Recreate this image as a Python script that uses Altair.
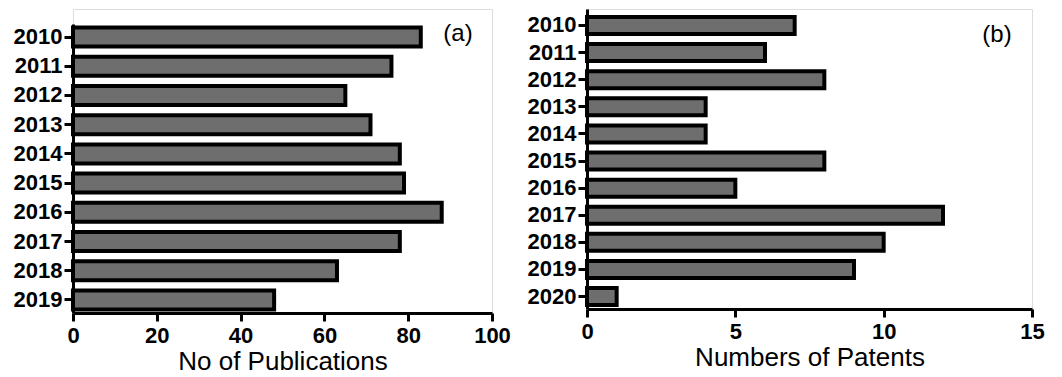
import altair as alt
import pandas as pd

pub_years = ["2010", "2011", "2012", "2013", "2014", "2015", "2016", "2017", "2018", "2019"]
pub_counts = [83, 76, 65, 71, 78, 79, 88, 78, 63, 48]

pat_years = ["2010", "2011", "2012", "2013", "2014", "2015", "2016", "2017", "2018", "2019", "2020"]
pat_counts = [7, 6, 8, 4, 4, 8, 5, 12, 10, 9, 1]

pub_ticks = [0, 20, 40, 60, 80, 100]
pat_ticks = [0, 5, 10, 15]

df_a = pd.DataFrame({"year": pub_years, "count": pub_counts})
df_b = pd.DataFrame({"year": pat_years, "count": pat_counts})

FONT = "Liberation Sans"
FILL = "#6e6e6e"


def xaxis(title, ticks):
    return alt.Axis(
        title=title, values=ticks, grid=False, labelFlush=False,
        domainColor="black", domainWidth=3, tickColor="black", tickWidth=3, tickSize=8,
        labelFont=FONT, labelFontWeight="bold", labelFontSize=22, labelColor="black",
        labelPadding=4, titleFont=FONT, titleFontWeight="normal", titleFontSize=26,
        titleColor="black", titlePadding=2,
    )


def yaxis():
    return alt.Axis(
        title=None, grid=False,
        domainColor="black", domainWidth=3, tickColor="black", tickWidth=3, tickSize=9,
        labelFont=FONT, labelFontWeight="bold", labelFontSize=22, labelColor="black",
        labelPadding=2,
    )


bars_a = alt.Chart(df_a).mark_bar(fill=FILL, stroke="black", strokeWidth=4).encode(
    x=alt.X("count:Q", scale=alt.Scale(domain=[0, 100], nice=False), axis=xaxis("No of Publications", pub_ticks)),
    y=alt.Y("year:N", sort=None,
            scale=alt.Scale(range=[15, 304], paddingInner=0.35, paddingOuter=0.12),
            axis=yaxis()),
)
lab_a = alt.Chart(pd.DataFrame({"t": ["(a)"]})).mark_text(
    font=FONT, fontSize=24, color="black", align="center", baseline="middle"
).encode(x=alt.value(385), y=alt.value(25), text="t:N")
chart_a = alt.layer(bars_a, lab_a).properties(width=419, height=304)

bars_b = alt.Chart(df_b).mark_bar(fill=FILL, stroke="black", strokeWidth=4).encode(
    x=alt.X("count:Q", scale=alt.Scale(domain=[0, 15], nice=False), axis=xaxis("Numbers of Patents", pat_ticks)),
    y=alt.Y("year:N", sort=None,
            scale=alt.Scale(paddingInner=0.373, paddingOuter=0.22, align=0.67),
            axis=yaxis()),
)
lab_b = alt.Chart(pd.DataFrame({"t": ["(b)"]})).mark_text(
    font=FONT, fontSize=24, color="black", align="center", baseline="middle"
).encode(x=alt.value(410), y=alt.value(26), text="t:N")
chart_b = alt.layer(bars_b, lab_b).properties(width=445, height=300)

chart = alt.hconcat(chart_a, chart_b, spacing=15).properties(
    padding={"left": 4, "top": 0, "right": 0, "bottom": 0}
).configure_view(stroke=None).configure(background="white")

chart.save("out.html", embed_options={"renderer": "svg", "actions": False})
